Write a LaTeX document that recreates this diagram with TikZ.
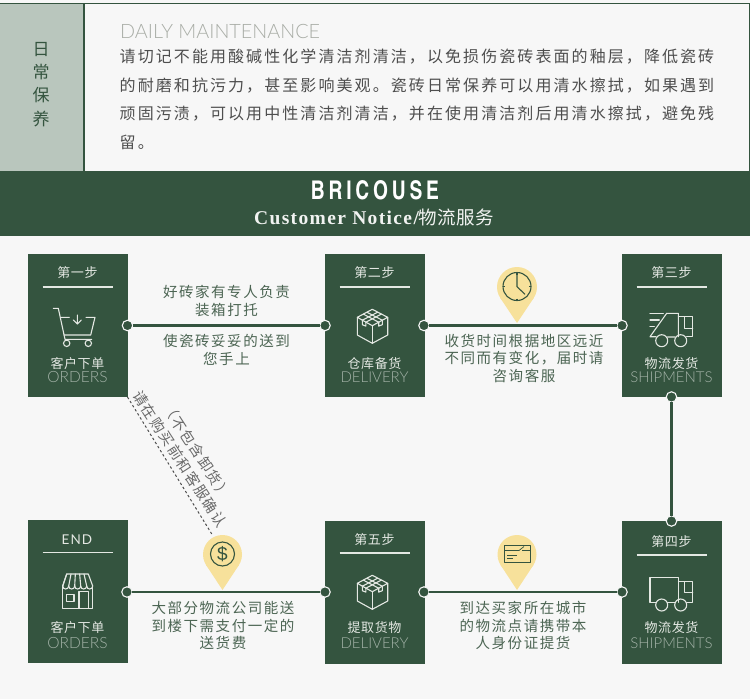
\documentclass[tikz,border=0pt]{standalone}
\usepackage{fontspec}
\usepackage{graphicx}
\setmainfont{Liberation Sans}
\newfontfamily\zhbody[LetterSpace=13]{Noto Sans CJK SC}
\newfontfamily\zhlabel[LetterSpace=10.5]{Noto Sans CJK SC}
\newfontfamily\zhbox[LetterSpace=4]{Noto Sans CJK SC}
\newfontfamily\zhplain{Noto Sans CJK SC}
\newfontfamily\latl{Lato Light}
\newfontfamily\lat[LetterSpace=8]{Lato}
\newfontfamily\serifb[LetterSpace=7]{Liberation Serif}
\newfontfamily\brand[LetterSpace=16]{TeX Gyre Heros Cn}
\definecolor{gdark}{HTML}{34543F}
\definecolor{gpanel}{HTML}{B9C6BD}
\definecolor{gtext}{HTML}{4C6553}
\definecolor{bgc}{HTML}{F7F7F7}
\definecolor{iconc}{HTML}{E4E8E3}
\definecolor{engc}{HTML}{A4B3A8}
\definecolor{pinc}{HTML}{F7E19B}
\definecolor{bodyc}{HTML}{4E4E4E}
\definecolor{dailyc}{HTML}{A9ADA6}
\tikzset{
  stepbox/.style={fill=gdark,minimum width=99.5pt,minimum height=143pt,inner sep=0pt,outer sep=0pt,anchor=north west},
  dot/.style={circle,fill=gdark,draw=bgc,line width=1.1pt,minimum size=10.5pt,inner sep=0pt,outer sep=0pt},
  link/.style={draw=gdark,line width=2.4pt},
  rulel/.style={draw=iconc,line width=1.2pt},
  icon/.style={draw=iconc,line width=1.1pt,line join=round,line cap=round},
  titlet/.style={text=iconc,font=\fontsize{13}{14}\zhbox,inner sep=0pt},
  labelt/.style={text=iconc,font=\fontsize{13}{14}\zhbox,inner sep=0pt},
  engt/.style={text=engc,font=\fontsize{15}{16}\latl,inner sep=0pt},
  desc/.style={text=gtext,font=\fontsize{14.5}{17.6}\zhlabel,align=center,inner sep=0pt},
  note/.style={text=bodyc!85,font=\fontsize{14.5}{16}\zhlabel,inner sep=0pt,rotate=-57},
  pinicon/.style={draw=gdark,line width=1.1pt,line join=round},
  boxicon/.pic={
    \draw[icon] (0,-17.4) -- (-15,-9.4) -- (0,-1) -- (15.4,-9.4) -- cycle;
    \draw[icon] (-15,-9.4) -- (-15,8.3) -- (0,16.6) -- (15.4,8.3) -- (15.4,-9.4);
    \draw[icon] (0,-1) -- (0,16.6);
    \draw[icon] (-9,-12.6) -- (6.4,-4.5) (-5.4,-14.5) -- (10,-6.5);
    \draw[icon] (9,-12.6) -- (-6.4,-4.5) (5.4,-14.5) -- (-10,-6.5);
    \draw[icon] (-10,-6.6) -- (-10,-2) -- (-6.4,-0.6) -- (-6.4,-4.5);
    \draw[icon] (10,-6.6) -- (10,-2) -- (6.4,-0.6) -- (6.4,-4.5);
  }
}
\newcommand{\pinshape}[4]{% x, top y, tip y, radius
  \pgfmathsetmacro{\pincy}{#2+#4}
  \pgfmathsetmacro{\pind}{#3-\pincy}
  \pgfmathsetmacro{\pintx}{#4*sqrt(1-(#4/\pind)*(#4/\pind))}
  \pgfmathsetmacro{\pinty}{#4*#4/\pind}
  \fill[pinc] (#1,\pincy) circle[radius=#4 pt];
  \fill[pinc] (#1,#3) -- ({#1-\pintx},{\pincy+\pinty}) -- ({#1+\pintx},{\pincy+\pinty}) -- cycle;
}
\begin{document}
\begin{tikzpicture}[x=1pt,y=-1pt]
\useasboundingbox (0,0) rectangle (750,699);
\fill[bgc] (0,0) rectangle (750,699);

% header panel
\fill[gpanel] (0,3) rectangle (83.5,171);
\draw[gdark,line width=1.4pt] (0,3.2) -- (749.3,3.2) -- (749.3,171);
\draw[gdark,line width=1.6pt] (84,3) -- (84,171);
\fill[gdark] (0,171) rectangle (750,236);

\node[inner sep=0pt,text=gdark,font=\fontsize{17}{23.2}\zhplain,align=center] (side) at (41,84.5) {日\\常\\保\\养};
\node[inner sep=0pt,anchor=west,text=dailyc,font=\fontsize{19.8}{20}\latl] (daily) at (120,31) {DAILY MAINTENANCE};
\node[inner sep=0pt,anchor=west,text=bodyc,font=\fontsize{16}{28.6}\zhbody,align=left] (body) at (119.5,99.5) {请切记不能用酸碱性化学清洁剂清洁，以免损伤瓷砖表面的釉层，降低瓷砖\\的耐磨和抗污力，甚至影响美观。瓷砖日常保养可以用清水擦拭，如果遇到\\顽固污渍，可以用中性清洁剂清洁，并在使用清洁剂后用清水擦拭，避免残\\留。};

\node[inner sep=0pt,text=white] (brand) at (375,190) {\resizebox{128pt}{19pt}{\brand\bfseries BRICOUSE}};
\node[inner sep=0pt,text=white!93!gdark,font=\fontsize{19.5}{22}\serifb\bfseries] (notice) at (374,217) {Customer Notice/{\fontsize{18.5}{22}\zhplain\mdseries 物\kern.3pt 流\kern.3pt 服\kern.3pt 务}};

% boxes
\node[stepbox] (b1) at (28,254) {};
\node[stepbox] (b2) at (325,254) {};
\node[stepbox] (b3) at (622,254) {};
\node[stepbox] (b6) at (28,519.5) {};
\node[stepbox] (b5) at (325,520.5) {};
\node[stepbox] (b4) at (622,521) {};

% pins
\pinshape{517}{267}{323}{20}
\pinshape{222.5}{535}{590}{19.5}
\pinshape{517}{535}{590}{19.5}

% connectors
\node[dot] (d1) at (127.5,325.5) {};
\node[dot] (d2a) at (325,325.5) {};
\node[dot] (d2b) at (424,325.5) {};
\node[dot] (d3a) at (622,325.5) {};
\node[dot] (d3b) at (671.5,397) {};
\node[dot] (d4a) at (671.5,521) {};
\node[dot] (d4b) at (622,592) {};
\node[dot] (d5a) at (424,592) {};
\node[dot] (d5b) at (325,592) {};
\node[dot] (d6) at (127,592) {};
\draw[link] (d1) -- (d2a);
\draw[link] (d2b) -- (d3a);
\draw[link] (d3b) -- (d4a);
\draw[link] (d4b) -- (d5a);
\draw[link] (d5b) -- (d6);

% box titles and rules
\node[titlet] (t1) at (77.5,273) {第一步};
\node[titlet] (t2) at (374.5,273) {第二步};
\node[titlet] (t3) at (671.5,273) {第三步};
\node[titlet] (t4) at (671.5,541.5) {第四步};
\node[titlet] (t5) at (374.5,540) {第五步};
\node[inner sep=0pt,text=iconc,font=\fontsize{13.5}{14}\lat] (t6) at (77,539.5) {END};
\draw[rulel] (42.5,287) -- (113,287);
\draw[rulel] (339.5,287) -- (410,287);
\draw[rulel] (636.5,287) -- (707,287);
\draw[rulel] (636.5,555) -- (707,555);
\draw[rulel] (339.5,553) -- (410,553);
\draw[rulel] (42.5,552.5) -- (113,552.5);

% box labels
\node[labelt] (l1) at (77.5,363.5) {客户下单};
\node[engt,font=\fontsize{15.5}{16}\latl] (e1) at (77.5,377.5) {ORDERS};
\node[labelt] (l2) at (374.5,363.5) {仓库备货};
\node[engt] (e2) at (374.5,377.5) {DELIVERY};
\node[labelt] (l3) at (671.5,363.5) {物流发货};
\node[engt] (e3) at (671.5,377.5) {SHIPMENTS};
\node[labelt] (l4) at (671.5,628) {物流发货};
\node[engt] (e4) at (671.5,643) {SHIPMENTS};
\node[labelt] (l5) at (374.5,628) {提取货物};
\node[engt] (e5) at (374.5,643) {DELIVERY};
\node[labelt] (l6) at (77.5,628) {客户下单};
\node[engt,font=\fontsize{15.5}{16}\latl] (e6) at (77.5,643) {ORDERS};

% cart icon
\draw[icon] (53.3,308.3) -- (58.3,308.3) -- (65,339.3) -- (91.7,339.3);
\draw[icon] (60.5,317.3) -- (69.3,317.3) (86,317.3) -- (95,317.3) -- (90.7,335) -- (64,335);
\draw[icon] (66.7,343.3) circle[radius=3.2pt] (88.3,343.3) circle[radius=3.2pt];
\draw[icon] (77.3,315) -- (77.3,324) (73.3,320) -- (77.3,324) -- (81.3,320);

% parcel icons
\pic at (372.3,326.7) {boxicon};
\pic at (372.3,592.7) {boxicon};

% moving truck
\draw[icon] (650,313.3) -- (663.3,313.3) (650,320) -- (659.3,320) (650,326.7) -- (654.3,326.7);
\draw[icon] (656,336.7) -- (650,336.7) -- (666.7,313.3) -- (678.3,313.3) -- (678.3,336.7) (667.5,337) -- (675,337);
\draw[icon] (678.3,316.7) -- (692.7,316.7) -- (692.7,336.7) -- (686.7,336.7);
\draw[icon] (684.3,316.7) -- (684.3,328.3) -- (692.7,328.3);
\draw[icon] (661.7,340.7) circle[radius=6pt] (680.7,340.7) circle[radius=6pt];

% parked truck
\draw[icon] (656,602.3) -- (650,602.3) -- (650,577.7) -- (678.3,577.7) -- (678.3,602.3) (667.5,602.3) -- (675,602.3);
\draw[icon] (678.3,581.7) -- (692.7,581.7) -- (692.7,602.3) -- (686.7,602.3);
\draw[icon] (684.3,581.7) -- (684.3,592.7) -- (692.7,592.7);
\draw[icon] (661.7,605) circle[radius=6pt] (680.7,605) circle[radius=6pt];

% shop icon
\draw[icon] (62.7,586) -- (66.7,574) -- (88.3,574) -- (92.7,586);
\draw[icon] (62.7,586) -- (62.7,608.3) -- (92.7,608.3) -- (92.7,586);
\foreach \i in {0,1,2,3,4}{
  \pgfmathsetmacro{\xa}{62.7+6*\i}
  \pgfmathsetmacro{\xb}{62.7+6*(\i+1)}
  \pgfmathsetmacro{\xt}{66.7+4.32*\i}
  \draw[icon] (\xa,586) .. controls (\xa,590) and (\xb,590) .. (\xb,586);
  \draw[icon] (\xa,586) -- (\xt,574);
}
\draw[icon] (79,608.3) -- (79,591.7) -- (88.3,591.7) -- (88.3,608.3);
\draw[icon] (66.7,594.3) rectangle (74,601.7);

% clock
\draw[pinicon] (517,286.5) circle[radius=14pt];
\draw[pinicon] (517,273.3) -- (517,286.7) -- (525,294.3);
\draw[pinicon] (517,272.5) -- (517,275) (517,298.5) -- (517,300.5) (503,286.5) -- (505,286.5) (529,286.5) -- (531,286.5);

% coin
\draw[pinicon] (222.5,554) circle[radius=12pt];
\node[inner sep=0pt,text=gdark,font=\fontsize{19}{20}\selectfont] (dollar) at (222.5,554) {\$};

% card
\draw[pinicon,line width=.9pt] (504,545) rectangle (530,562.5);
\draw[pinicon,line width=.7pt] (504,550.5) -- (519,550.5) (522,550.5) -- (530,550.5) (519,550.5) -- (524,546.5);
\draw[gdark,line width=1pt] (507,555) -- (517,555);
\draw[gdark,line width=1pt] (507,558) -- (513,558);

% descriptions
\node[desc] (a1) at (226.5,301) {好砖家有专人负责\\装箱打托};
\node[desc] (a2) at (226.5,350) {使瓷砖妥妥的送到\\您手上};
\node[desc] (a3) at (524,358.5) {收货时间根据地区远近\\不同而有变化，届时请\\咨询客服};
\node[desc] (a4) at (223,625.5) {大部分物流公司能送\\到楼下需支付一定的\\送货费};
\node[desc] (a5) at (523,625.5) {到达买家所在城市\\的物流点请携带本\\人身份证提货};

% diagonal note
\coordinate (ds) at (b1.south east);
\coordinate (de) at (213,536);
\draw[bodyc,line width=1pt,dash pattern=on 2.4pt off 2.4pt] (ds) -- (de);
\node[note] (n1) at (180,459) {请在购买前和客服确认};
\node[note] (n2) at (197,451) {（不包含卸货）};
\end{tikzpicture}
\end{document}
